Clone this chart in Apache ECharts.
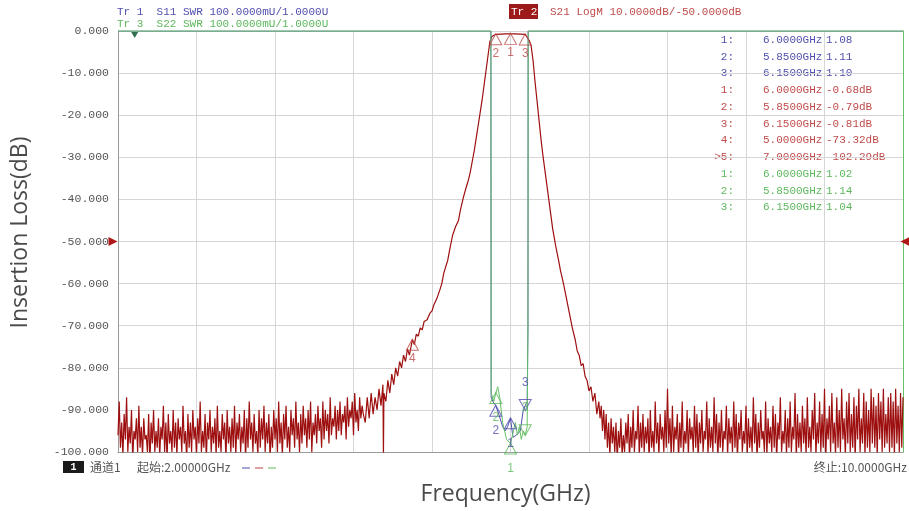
<!DOCTYPE html>
<html><head><meta charset="utf-8">
<script src="https://cdn.jsdelivr.net/npm/echarts@6/dist/echarts.min.js"></script>
<style>html,body{margin:0;padding:0;background:#fff}#c{width:909px;height:511px}</style>
</head><body><div id="c"></div>
<script>
// ---------------- DATA ----------------
const sweepStart = 2.0, sweepStop = 10.0;
const refLevel = -50;
const s21Min = -100, s21Max = 0;

// S21 noise floor, low side (uniform sweep points from 2.0 to 4.5 GHz)
const floorLeftStart = 2.0, floorLeftStop = 4.5;
const floorLeft = [
-96,-88,-99,-93,-101,-91,-97,-87,-100,-94,
-98,-90,-102,-95,-97,-92,-100,-89,-99,-94,
-101,-92,-97,-96,-100,-91,-103,-93,-98,-90,
-100,-95,-99,-92,-101,-94,-97,-89,-100,-93,
-102,-91,-98,-95,-100,-90,-99,-93,-101,-92,
-97,-94,-100,-89,-98,-95,-102,-91,-99,-93,
-100,-90,-97,-94,-101,-92,-98,-88,-100,-95,
-99,-91,-102,-93,-97,-90,-100,-94,-98,-92,
-101,-89,-99,-95,-100,-91,-97,-93,-102,-90,
-98,-94,-100,-92,-99,-89,-101,-93,-97,-91,
-100,-94,-98,-90,-102,-92,-99,-88,-97,-93,
-100,-91,-98,-95,-101,-90,-99,-92,-97,-89,
-100,-93,-98,-91,-102,-94,-99,-90,-97,-92,
-100,-88,-98,-93,-101,-91,-97,-89,-99,-94,
-100,-90,-96,-92,-99,-88,-97,-93,-100,-91,
-98,-89,-96,-92,-99,-90,-97,-88,-100,-93,
-96,-91,-98,-89,-95,-92,-99,-88,-97,-90,
-95,-91,-98,-87,-96,-92,-94,-89,-97,-90,
-95,-88,-96,-91,-93,-89,-97,-87,-94,-90,
-92,-88,-96,-86,-93,-90,-95,-87,-92,-89,
-91
];

// S21 skirts and passband (GHz, dB)
const skirtFreq = [
4.52,4.54,4.56,4.58,4.60,4.62,4.64,4.66,4.68,4.70,4.705,4.71,4.73,4.75,4.77,4.79,4.81,4.83,4.85,4.87,
4.89,4.91,4.93,4.95,4.97,5.00,5.02,5.04,5.06,5.08,5.10,5.12,5.15,5.18,5.20,5.22,5.25,5.28,5.30,5.32,
5.34,5.36,5.38,5.41,5.44,5.47,5.49,5.52,5.55,5.57,5.59,5.61,5.63,5.65,5.67,5.69,5.71,5.73,5.75,5.77,
5.79,5.81,5.83,5.85,5.90,5.95,6.00,6.05,6.10,6.15,6.17,6.19,6.21,6.23,6.25,6.27,6.29,6.31,6.33,6.35,
6.37,6.39,6.41,6.43,6.46,6.49,6.51,6.54,6.57,6.60,6.63,6.66,6.68,6.70,6.72,6.74,6.76,6.78,6.80,6.82,
6.84,6.86,6.88
];
const skirtVal = [
-93,-87,-92,-86,-91,-87,-90,-85,-89,-84,-101,-86,-88,-83,-86,-81.5,-84,-80,-82,-78.5,
-80,-77,-78.5,-75.5,-77,-73.3,-74.5,-72,-72.5,-70.5,-71,-69,-68.6,-67,-66.5,-65,-63.5,-61.5,-60,-57.5,
-56,-54.5,-52,-48.5,-46.5,-45,-42.5,-39.5,-37,-35.5,-33.5,-31,-28.5,-25.5,-22.5,-19.5,-16.5,-13,-9.5,-6,
-2.5,-1.3,-0.9,-0.79,-0.72,-0.70,-0.68,-0.70,-0.75,-0.81,-1.1,-2.2,-3.5,-7,-12,-16.5,-21,-25.5,-29.5,-33,
-36.5,-40,-43.5,-47,-51,-54.5,-57,-60,-63.5,-67,-70.5,-73.4,-76,-77,-79.5,-79,-82,-83,-85.5,-84.5,
-88,-86,-91
];

// S21 noise floor, high side (uniform sweep points from 6.9 to 10.0 GHz)
const floorRightStart = 6.9, floorRightStop = 10.0;
const floorRight = [
-88,-92,-89,-95,-90,-97,-91,-99,-93,-101,-92,-98,-94,-100,-93,-102,
-95,-99,-92,-101,-96,-100,-93,-98,-91,-102,
-94,-99,-90,-100,-95,-97,-89,-101,-93,-99,
-91,-100,-94,-98,-92,-102,-90,-99,-95,-100,
-88,-98,-93,-101,-91,-97,-94,-100,-90,-99,
-85,-98,-92,-101,-89,-100,-94,-97,-91,-102,
-93,-99,-88,-100,-95,-98,-90,-101,-92,-97,
-94,-100,-89,-99,-91,-102,-93,-98,-90,-100,
-95,-97,-88,-101,-92,-99,-94,-100,-87,-98,
-91,-102,-93,-99,-90,-100,-95,-97,-89,-101,
-92,-98,-94,-100,-88,-99,-91,-102,-93,-97,
-90,-100,-95,-98,-89,-101,-92,-99,-94,-100,
-87,-98,-91,-102,-93,-99,-90,-97,-95,-100,
-88,-101,-92,-98,-94,-100,-89,-99,-91,-102,
-93,-97,-87,-100,-95,-98,-90,-101,-92,-99,
-88,-100,-94,-97,-86,-102,-91,-99,-93,-100,
-89,-98,-92,-101,-87,-99,-94,-100,-90,-97,
-86,-101,-93,-98,-88,-100,-91,-99,-85,-102,
-92,-97,-89,-100,-86,-98,-93,-101,-87,-99,
-90,-100,-85,-97,-92,-101,-88,-98,-86,-100,
-91,-99,-87,-102,-89,-97,-85,-100,-92,-98,
-86,-101,-88,-99,-90,-100,-85,-98,-87,-99,
-89,-101,-86,-97,-88,-100,-85,-99,-91,-98,
-87,-100,-86,-99,-88,-101,-85,-98,-89,-100,
-86,-99,-87
];

// S11 / S22 SWR traces (GHz, SWR); scale 1.0 .. 2.0 U
const swrMin = 1.0, swrMax = 2.0;
const s11Freq = [2.0,5.80,5.803,5.82,5.85,5.88,5.92,5.945,5.97,6.00,6.025,6.06,6.10,6.13,6.15,6.17,6.178,6.18,10.0];
const s11Swr  = [2.0,2.0,1.13,1.12,1.11,1.09,1.06,1.05,1.06,1.08,1.035,1.04,1.05,1.10,1.10,1.12,1.3,2.0,2.0];
const s22Freq = [2.0,5.80,5.803,5.83,5.85,5.87,5.89,5.92,5.96,6.00,6.03,6.05,6.07,6.09,6.11,6.13,6.15,6.17,6.178,6.18,10.0];
const s22Swr  = [2.0,2.0,1.14,1.12,1.14,1.155,1.13,1.07,1.03,1.02,1.05,1.07,1.04,1.06,1.03,1.05,1.04,1.06,1.3,2.0,2.0];

// Markers
const s11MarkerNo = ['1','2','3'];
const s11MarkerFreq = [6.0, 5.85, 6.15];
const s11MarkerVal = [1.08, 1.11, 1.10];
const s21MarkerNo = ['1','2','3','4','5'];
const s21MarkerFreq = [6.0, 5.85, 6.15, 5.0, 7.0];
const s21MarkerVal = [-0.68, -0.79, -0.81, -73.32, -102.29];
const s21ActiveMarker = '5';
const s22MarkerNo = ['1','2','3'];
const s22MarkerFreq = [6.0, 5.85, 6.15];
const s22MarkerVal = [1.02, 1.14, 1.04];
const downMarker = '3';      // drawn as ▽ on SWR traces
const trace3RefFreq = [2.17]; // small ▼ indicator at top

// ---------------- COLOURS / FONTS ----------------
const RED = '#9e0f0f', RED_T = '#bf4a4a', BLUE = '#4f4fae', GREEN = '#5cb85c', GREEN_LINE = '#66c266';
const MONO = '"Liberation Mono","Noto Sans CJK SC",monospace';
const CJK = '"Noto Sans CJK SC","Liberation Mono",sans-serif';

// ---------------- BUILD ----------------
function uniform(start, stop, vals) {
  const step = (stop - start) / (vals.length - 1);
  return vals.map((v, i) => [start + i * step, v]);
}
const s21Data = uniform(floorLeftStart, floorLeftStop, floorLeft)
  .concat(skirtFreq.map((f, i) => [f, skirtVal[i]]))
  .concat(uniform(floorRightStart, floorRightStop, floorRight));
const s11Data = s11Freq.map((f, i) => [f, s11Swr[i]]);
const s22Data = s22Freq.map((f, i) => [f, s22Swr[i]]);

function markerSeries(nos, freqs, vals, color, yIdx, allowDown, dist) {
  return {
    type: 'scatter', xAxisIndex: 0, yAxisIndex: yIdx, clip: true, z: 10,
    data: nos.map((n, i) => {
      const down = allowDown && n === downMarker;
      return {
        value: [freqs[i], vals[i]],
        symbolRotate: down ? 180 : 0,
        symbolOffset: down ? [0, -5] : [0, 5],
        label: { show: true, formatter: n, position: down ? 'top' : 'bottom', distance: down ? 10 : dist,
                 color: color, fontSize: 12, fontFamily: '"Liberation Sans",sans-serif' }
      };
    }),
    symbol: 'triangle', symbolSize: [12, 11],
    itemStyle: { color: 'rgba(255,255,255,0)', borderColor: color, borderWidth: 1 },
    emphasis: { disabled: true }, silent: true
  };
}

// Marker table text
const tableRows = [];
s11MarkerNo.forEach((n, i) => tableRows.push({ no: n + ':', f: s11MarkerFreq[i], v: s11MarkerVal[i].toFixed(2), c: BLUE }));
s21MarkerNo.forEach((n, i) => tableRows.push({ no: (n === s21ActiveMarker ? '>' : '') + n + ':', f: s21MarkerFreq[i], v: s21MarkerVal[i].toFixed(2) + 'dB', c: RED_T }));
s22MarkerNo.forEach((n, i) => tableRows.push({ no: n + ':', f: s22MarkerFreq[i], v: s22MarkerVal[i].toFixed(2), c: GREEN }));

const graphics = [];
function txt(x, y, text, color, opts) {
  graphics.push({ type: 'text', x: x, y: y, silent: true,
    style: Object.assign({ text: text, fill: color, font: '11px ' + MONO, textVerticalAlign: 'middle' }, (opts || {})) });
}
tableRows.forEach((r, i) => {
  const y = 40 + 16.75 * i;
  txt(734, y, r.no, r.c, { textAlign: 'right' });
  txt(763, y, r.f.toFixed(4) + 'GHz', r.c);
  txt(826, y, r.v, r.c);
});
// header
txt(117, 12, 'Tr 1  S11 SWR 100.0000mU/1.0000U', BLUE);
txt(117, 24, 'Tr 3  S22 SWR 100.0000mU/1.0000U', GREEN);
graphics.push({ type: 'rect', shape: { x: 509, y: 4, width: 29, height: 15 }, style: { fill: '#9c1a1a' }, silent: true });
txt(511, 12, 'Tr 2', '#ffffff');
txt(550, 12, 'S21 LogM 10.0000dB/' + refLevel.toFixed(4) + 'dB', RED_T);
// footer
graphics.push({ type: 'rect', shape: { x: 63, y: 461, width: 21, height: 12 }, style: { fill: '#1a1a1a' }, silent: true });
txt(73.5, 467, '1', '#ffffff', { font: 'bold 10px ' + MONO, textAlign: 'center' });
txt(90, 467, '通道1', '#555', { font: '12px ' + CJK });
txt(137, 467, '起始:' + sweepStart.toFixed(5) + 'GHz', '#555', { font: '12px ' + CJK });
[BLUE, '#c04040', GREEN].forEach((c, i) => graphics.push({ type: 'line', shape: { x1: 242 + i * 13, y1: 468, x2: 250 + i * 13, y2: 468 }, style: { stroke: c, lineWidth: 1 }, silent: true }));
txt(907, 467, '终止:' + sweepStop.toFixed(4) + 'GHz', '#555', { font: '12px ' + CJK, textAlign: 'right' });

const chart = echarts.init(document.getElementById('c'), null, { renderer: 'canvas' });
chart.setOption({
  animation: false,
  backgroundColor: '#fff',
  grid: { left: 118, right: 6, top: 31, bottom: 59, containLabel: false },
  xAxis: [
    { type: 'value', min: sweepStart, max: sweepStop, position: 'bottom',
      axisLine: { show: true, onZero: false, lineStyle: { color: '#9a9a9a' } },
      axisTick: { show: false }, axisLabel: { show: false }, splitLine: { show: false },
      name: 'Frequency(GHz)', nameLocation: 'middle', nameGap: 31,
      nameTextStyle: { fontSize: 23, fontFamily: '"Open Sans",sans-serif', color: '#4a4a4a', padding: [0, 10, 0, 0] } },
    { type: 'value', min: 0, max: 10, interval: 1, position: 'top',
      axisLine: { show: false }, axisTick: { show: false }, axisLabel: { show: false },
      splitLine: { show: true, lineStyle: { color: '#d6d6d6', width: 1 } } }
  ],
  yAxis: [
    { type: 'value', min: s21Min, max: s21Max, interval: 10,
      axisLine: { show: true, lineStyle: { color: '#9a9a9a' } }, axisTick: { show: false },
      axisLabel: { formatter: v => v.toFixed(3), color: '#555', fontSize: 11.5, fontFamily: MONO, margin: 9 },
      splitLine: { show: true, lineStyle: { color: '#d6d6d6', width: 1 } },
      name: 'Insertion Loss(dB)', nameLocation: 'middle', nameGap: 86, nameRotate: 90,
      nameTextStyle: { fontSize: 23, fontFamily: '"Open Sans",sans-serif', color: '#4a4a4a', padding: [0, 0, 0, 18] } },
    { type: 'value', min: swrMin, max: swrMax, position: 'right',
      axisLine: { show: true, lineStyle: { color: GREEN_LINE } }, axisTick: { show: false },
      axisLabel: { show: false }, splitLine: { show: false } }
  ],
  series: [
    { name: 'S21', type: 'line', data: s21Data, xAxisIndex: 0, yAxisIndex: 0, showSymbol: false, symbol: 'none',
      clip: true, lineStyle: { color: RED, width: 1.2 }, silent: true, z: 3,
      markPoint: { silent: true, symbol: 'triangle', symbolSize: 9, itemStyle: { color: '#b01818' }, label: { show: false },
        data: [
          { coord: [sweepStart, refLevel], symbolRotate: -90, symbolOffset: [-5, 0] },
          { coord: [sweepStop, refLevel], symbolRotate: 90, symbolOffset: [2, 0] }
        ] } },
    { name: 'S11', type: 'line', data: s11Data, xAxisIndex: 0, yAxisIndex: 1, showSymbol: false, symbol: 'none',
      clip: true, lineStyle: { color: BLUE, width: 1 }, silent: true, z: 4 },
    { name: 'S22', type: 'line', data: s22Data, xAxisIndex: 0, yAxisIndex: 1, showSymbol: false, symbol: 'none',
      clip: false, lineStyle: { color: GREEN_LINE, width: 1 }, silent: true, z: 5,
      markPoint: { silent: true, symbol: 'triangle', symbolSize: [7, 6], itemStyle: { color: '#2f6f4f' }, label: { show: false },
        data: trace3RefFreq.map(f => ({ coord: [f, swrMax], symbolRotate: 180, symbolOffset: [0, 4] })) } },
    markerSeries(s21MarkerNo, s21MarkerFreq, s21MarkerVal, RED_T, 0, false, 2),
    markerSeries(s11MarkerNo, s11MarkerFreq, s11MarkerVal, BLUE, 1, true, 8),
    markerSeries(s22MarkerNo, s22MarkerFreq, s22MarkerVal, GREEN, 1, true, 8)
  ],
  graphic: graphics
});
</script>
</body></html>
